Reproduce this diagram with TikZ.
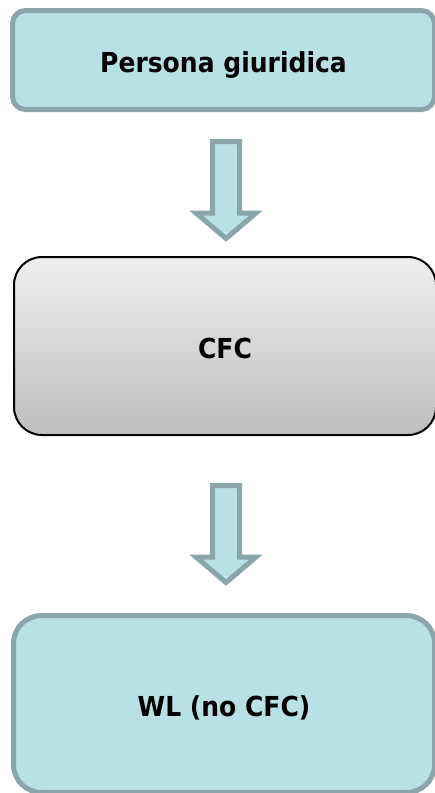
\documentclass[tikz,border=0pt]{standalone}
\usepackage{fontspec}
\setmainfont[FakeStretch=0.91]{DejaVu Sans}
\usetikzlibrary{calc}
\definecolor{tealfill}{HTML}{B9E0E3}
\definecolor{tealline}{HTML}{8AA6A8}
\definecolor{graytop}{HTML}{EFEFEF}
\definecolor{graybot}{HTML}{BEBEBE}
\tikzset{
  x=1pt, y=-1pt,
  boxtext/.style={font=\fontsize{27.5}{32}\selectfont\bfseries, inner sep=0pt, text height=24pt, text depth=0pt},
  tealbox/.style={boxtext, draw=tealline, line width=5pt, fill=tealfill, rounded corners=13pt},
  graybox/.style={boxtext, draw=black, line width=2pt, top color=graytop, bottom color=graybot,
    rounded corners=28pt},
  bigarrow/.style={draw=tealline, line width=5pt, fill=tealfill, line join=miter}
}
\begin{document}
\begin{tikzpicture}
\useasboundingbox (0,0) rectangle (435,793);
\node[tealbox, minimum width=422pt, minimum height=99pt] (pg) at (223.5,60) {Persona giuridica};
\node[graybox, minimum width=422pt, minimum height=178pt] (cfc) at (225,346) {CFC};
\node[tealbox, rounded corners=28pt, minimum width=421pt, minimum height=177pt] (wl) at (224,704) {WL (no CFC)};
\coordinate (a1) at (226,141.5);
\coordinate (a2) at (226,485.5);
\draw[bigarrow] (a1) ++(-13.5,0) -- ++(0,71.5) -- ++(-16.5,0) -- ($(a1)+(0,97)$) -- ($(a1)+(30,71.5)$) -- ($(a1)+(13.5,71.5)$) -- ($(a1)+(13.5,0)$) -- cycle;
\draw[bigarrow] (a2) ++(-13.5,0) -- ++(0,71.5) -- ++(-16.5,0) -- ($(a2)+(0,97)$) -- ($(a2)+(30,71.5)$) -- ($(a2)+(13.5,71.5)$) -- ($(a2)+(13.5,0)$) -- cycle;
\end{tikzpicture}
\end{document}
